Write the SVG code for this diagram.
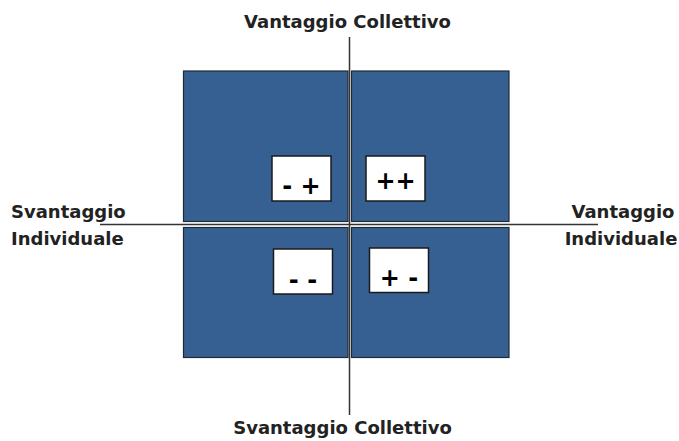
<svg xmlns="http://www.w3.org/2000/svg" width="679" height="441" viewBox="0 0 679 441">
<style>
.q{fill:#376092;stroke:#1f2a38;stroke-width:1.2}
.b{fill:#fff;stroke:#1a1a1a;stroke-width:1.5}
.s{font-family:"DejaVu Sans",Verdana,sans-serif;font-weight:bold;font-size:24px;fill:#000;text-anchor:middle}
.l{font-family:"DejaVu Sans",Verdana,sans-serif;font-weight:bold;font-size:18px;fill:#222}
.ax{stroke:#333;stroke-width:1.5;fill:none}
</style>
<rect width="679" height="441" fill="#fff"/>
<g id="q-tl"><rect class="q" x="183.5" y="71" width="164.5" height="150.5"/></g>
<g id="q-tr"><rect class="q" x="351.5" y="71" width="157.5" height="150.5"/></g>
<g id="q-bl"><rect class="q" x="183.5" y="227.5" width="164.5" height="130"/></g>
<g id="q-br"><rect class="q" x="351.5" y="227.5" width="157.5" height="130"/></g>
<g id="connectors">
<line class="ax" x1="349.5" y1="37" x2="349.5" y2="415"/>
<line class="ax" x1="100" y1="224.5" x2="598" y2="224.5"/>
</g>
<g id="box-mp"><rect class="b" x="272" y="156" width="59" height="45"/><text class="s" x="301.5" y="194">- +</text></g>
<g id="box-pp"><rect class="b" x="366" y="156" width="59" height="45"/><text class="s" x="395.5" y="189">++</text></g>
<g id="box-mm"><rect class="b" x="273.5" y="249" width="59" height="45"/><text class="s" x="303" y="288">- -</text></g>
<g id="box-pm"><rect class="b" x="369.5" y="248" width="59" height="44.5"/><text class="s" x="399" y="286">+ -</text></g>
<g id="lbl-top"><text class="l" x="347.5" y="28" text-anchor="middle">Vantaggio Collettivo</text></g>
<g id="lbl-bottom"><text class="l" x="342.5" y="434" text-anchor="middle">Svantaggio Collettivo</text></g>
<g id="lbl-left"><text class="l" x="11" y="218">Svantaggio</text><text class="l" x="11" y="245">Individuale</text></g>
<g id="lbl-right"><text class="l" x="623" y="218" text-anchor="middle">Vantaggio</text><text class="l" x="621" y="245" text-anchor="middle">Individuale</text></g>
</svg>
